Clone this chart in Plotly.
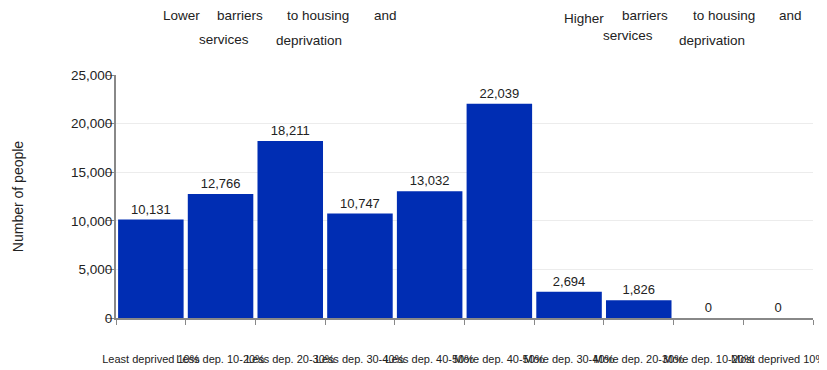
import plotly.graph_objects as go

categories = ["Least deprived 10%", "Less dep. 10-20%", "Less dep. 20-30%", "Less dep. 30-40%",
              "Less dep. 40-50%", "More dep. 40-50%", "More dep. 30-40%", "More dep. 20-30%",
              "More dep. 10-20%", "Most deprived 10%"]
people = [10131, 12766, 18211, 10747, 13032, 22039, 2694, 1826, 0, 0]
y_ticks = [0, 5000, 10000, 15000, 20000, 25000]

left_words = ["Lower", "barriers", "to housing", "and", "services", "deprivation"]
right_words = ["Higher", "barriers", "to housing", "and", "services", "deprivation"]

BLUE = "#002DB3"
FONT = "Liberation Sans, Arial, sans-serif"

W, H = 827, 370
OFF = 8  # page body margin
L, R, T, B = 108, 22, 67, 60
PW, PH = W - L - R, H - T - B

fig = go.Figure()
fig.add_trace(go.Bar(
    x=categories, y=people, marker_color=BLUE, marker_line_width=0,
    text=[f"{v:,}" for v in people], textposition="outside", cliponaxis=False,
    textfont=dict(size=13, color="#222", family=FONT), hoverinfo="skip",
))

# header words (centres in page pixels)
left_pos = [(181, 15), (240, 15), (318, 15), (385, 15), (224, 39), (309, 40)]
right_pos = [(584, 18), (645, 15), (724, 15), (790, 15), (628, 36), (712, 40)]
for words, pos in ((left_words, left_pos), (right_words, right_pos)):
    for w, (px, py) in zip(words, pos):
        fig.add_annotation(text=w, xref="paper", yref="paper",
                           x=(px - OFF - L) / PW, y=1 + (T - (py - OFF)) / PH,
                           showarrow=False, xanchor="center", yanchor="middle",
                           font=dict(size=13.5, color="#222", family=FONT))

fig.update_layout(
    width=W, height=H,
    margin=dict(l=L, r=R, t=T, b=B, autoexpand=False),
    plot_bgcolor="white", paper_bgcolor="white",
    bargap=0.06, showlegend=False,
    font=dict(family=FONT, color="#222"),
    xaxis=dict(type="category", range=[-0.5, 9.5], tickson="boundaries",
               ticks="outside", ticklen=5, tickcolor="#888", showline=True,
               linecolor="#888", linewidth=2, showgrid=False, tickangle=0,
               automargin=False,
               tickfont=dict(size=11, color="#222"), ticklabelstandoff=30),
    yaxis=dict(range=[0, 25000], tickvals=y_ticks, tickformat=",",
               ticks="outside", ticklen=8, tickcolor="#888", showline=True,
               linecolor="#888", linewidth=2, gridcolor="#ececec", zeroline=False,
               automargin=False,
               tickfont=dict(size=13.5, color="#222"), ticklabelstandoff=-9,
               title=dict(text="Number of people", font=dict(size=14, color="#222"), standoff=44)),
)

fig.write_html("out.html")
